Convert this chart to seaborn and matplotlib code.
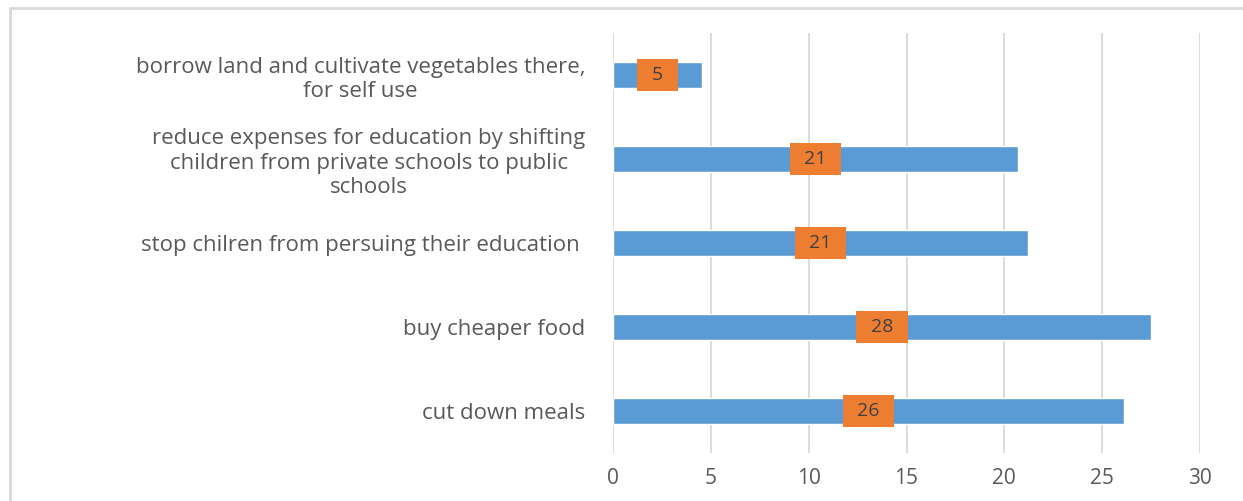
import numpy as np
import pandas as pd
import matplotlib
matplotlib.use('Agg')
import matplotlib.pyplot as plt
from matplotlib.path import Path
from matplotlib.lines import Line2D
import seaborn as sns

# data (bar lengths; labels show rounded values)
categories = ['borrow land and cultivate vegetables there,\nfor self use',
              'reduce expenses for education by shifting\nchildren from private schools to public\nschools',
              'stop chilren from persuing their education ',
              'buy cheaper food',
              'cut down meals']
values = [4.55, 20.7, 21.2, 27.5, 26.1]
x_ticks = [0, 5, 10, 15, 20, 25, 30]

bar_color = '#5B9BD5'
label_color = '#ED7D31'
text_color = '#595959'
grid_color = '#D9D9D9'

df = pd.DataFrame({'strategy': categories, 'pct': values})

sns.set_style('white')
plt.rcParams['font.family'] = ['Open Sans', 'DejaVu Sans']

fig = plt.figure(figsize=(12.43, 5.01), dpi=100)
ax = fig.add_axes([0.4932, 0.0958, 0.4722, 0.8383])

sns.barplot(data=df, x='pct', y='strategy', orient='h',
            color=bar_color, width=0.31, saturation=1, ax=ax)


# orange data-label boxes, wider than tall like the office chart
def label_box(x0, y0, width, height, mutation_size, *args):
    px = 0.75 * mutation_size
    py = 0.38 * mutation_size
    verts = [(x0 - px, y0 - py), (x0 + width + px, y0 - py),
             (x0 + width + px, y0 + height + py), (x0 - px, y0 + height + py),
             (x0 - px, y0 - py)]
    return Path(verts, closed=True)


ax.bar_label(ax.containers[0], fmt='%.0f', label_type='center',
             fontsize=14, color='#404040',
             bbox=dict(boxstyle=label_box, fc=label_color, ec='none'))

ax.set_xlim(0, 30)
ax.set_xticks(x_ticks)
ax.set_xlabel('')
ax.set_ylabel('')
ax.grid(axis='x', color=grid_color, linewidth=1.3)
ax.set_axisbelow(True)
sns.despine(ax=ax, left=True, bottom=True)
ax.tick_params(axis='x', length=0, pad=11, labelsize=15, labelcolor=text_color)
ax.tick_params(axis='y', length=0, pad=20, labelsize=16, labelcolor=text_color)
for t in ax.get_yticklabels():
    t.set_multialignment('center')
    t.set_linespacing(1.2)

# light chart-area border (left and top edges visible)
fig.add_artist(Line2D([10 / 1243, 10 / 1243], [0, 1 - 8 / 501],
                      transform=fig.transFigure, color=grid_color, lw=2))
fig.add_artist(Line2D([10 / 1243, 1], [1 - 8 / 501, 1 - 8 / 501],
                      transform=fig.transFigure, color=grid_color, lw=2))

plt.savefig('out.png', dpi=100)
